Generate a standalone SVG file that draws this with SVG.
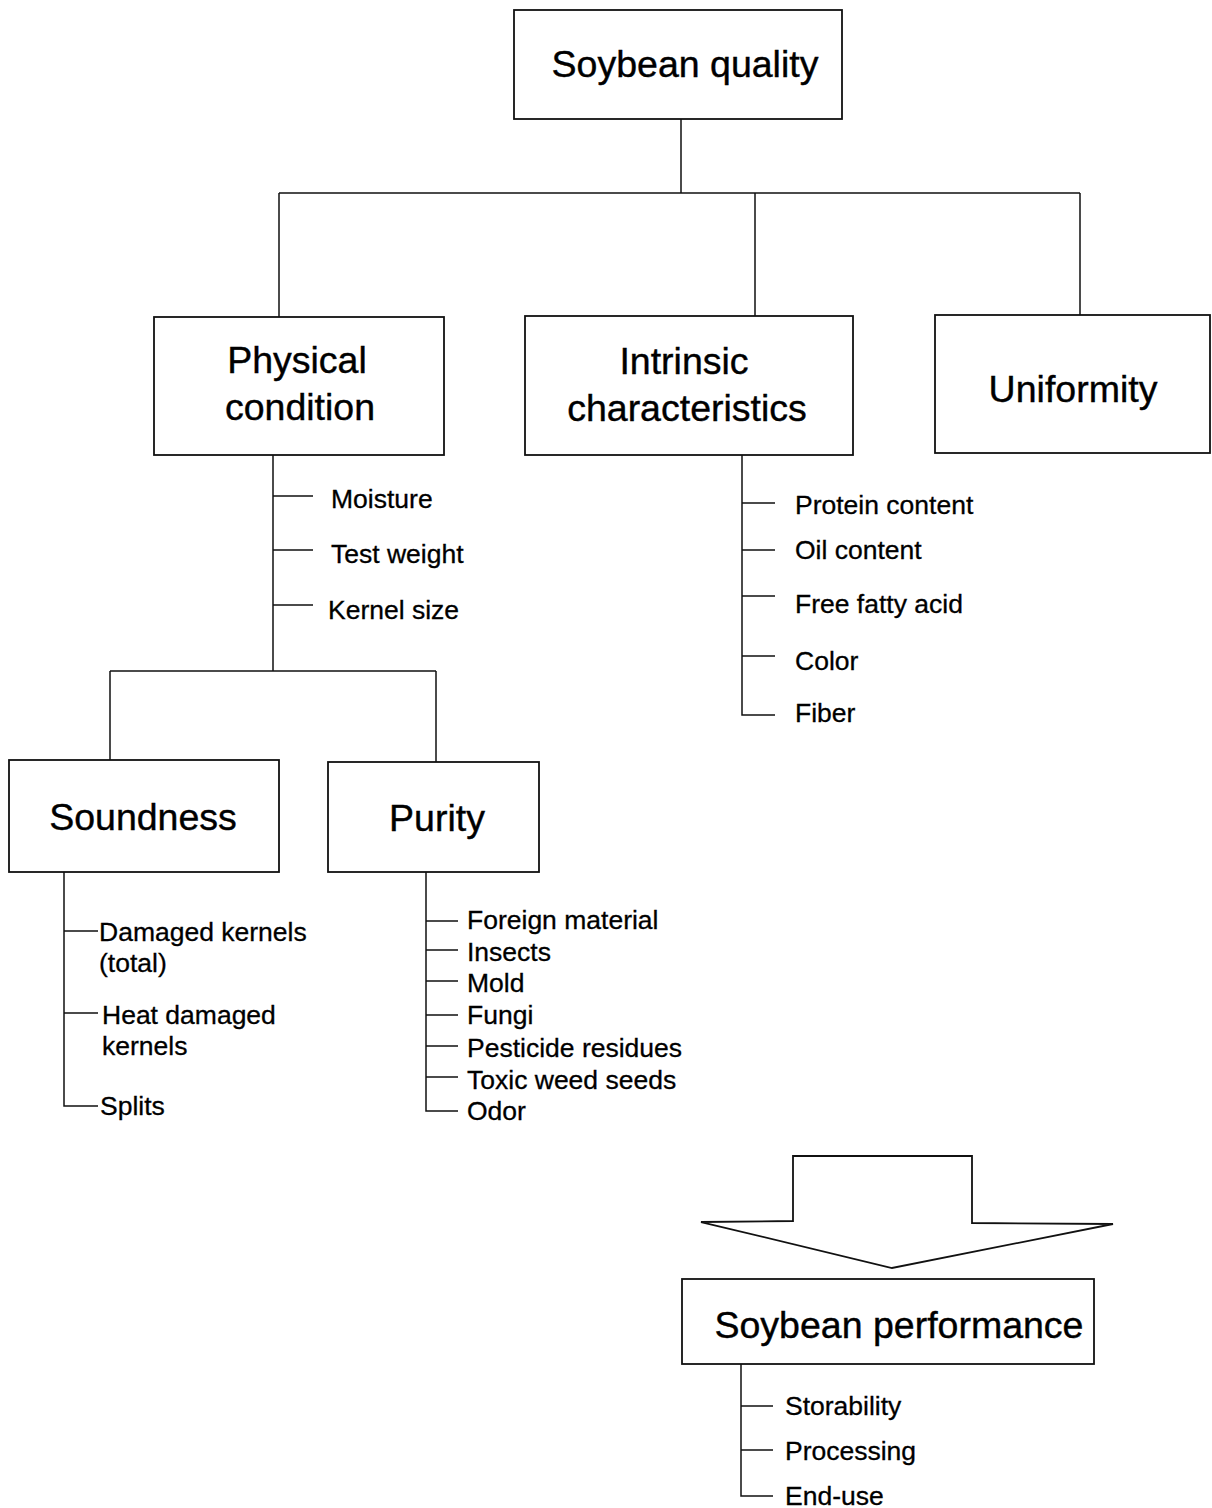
<svg xmlns="http://www.w3.org/2000/svg" width="1212" height="1508" viewBox="0 0 1212 1508">
<style>
.box{fill:#fff;stroke:#111;stroke-width:1.8}
.ln{fill:none;stroke:#111;stroke-width:1.5}
.big{font-family:"Liberation Sans",Arial,sans-serif;font-size:37.5px;fill:#000;stroke:#000;stroke-width:0.4;text-anchor:middle}
.sm{font-family:"Liberation Sans",Arial,sans-serif;font-size:26.5px;fill:#000;stroke:#000;stroke-width:0.3}
</style>
<rect width="1212" height="1508" fill="#fff"/>
<g id="connectors" class="ln">
<path d="M681 119V193M279 193H1080M279 193V317M755 193V316M1080 193V315"/>
<path d="M273 455V671M273 496H313M273 550H313M273 605H313"/>
<path d="M110 671H436M110 671V760M436 671V762"/>
<path d="M64 872V1106H98M64 931H98M64 1013H98"/>
<path d="M426 872V1111H458M426 921H458M426 950H458M426 981H458M426 1015H458M426 1046H458M426 1077H458"/>
<path d="M742 455V715H775M742 503H775M742 550H775M742 596H775M742 656H775"/>
<path d="M741 1364V1496H773M741 1406H773M741 1450H773"/>
</g>
<g id="soybean-quality"><rect class="box" x="514" y="10" width="328" height="109"/><text class="big" x="685" y="77">Soybean quality</text></g>
<g id="physical-condition"><rect class="box" x="154" y="317" width="290" height="138"/><text class="big" x="297" y="373">Physical</text><text class="big" x="300" y="420">condition</text></g>
<g id="intrinsic-characteristics"><rect class="box" x="525" y="316" width="328" height="139"/><text class="big" x="684" y="374">Intrinsic</text><text class="big" x="687" y="421">characteristics</text></g>
<g id="uniformity"><rect class="box" x="935" y="315" width="275" height="138"/><text class="big" x="1073" y="402">Uniformity</text></g>
<g id="physical-items"><text class="sm" x="331" y="508">Moisture</text><text class="sm" x="331" y="563">Test weight</text><text class="sm" x="328" y="619">Kernel size</text></g>
<g id="intrinsic-items"><text class="sm" x="795" y="514">Protein content</text><text class="sm" x="795" y="559">Oil content</text><text class="sm" x="795" y="613">Free fatty acid</text><text class="sm" x="795" y="670">Color</text><text class="sm" x="795" y="722">Fiber</text></g>
<g id="soundness"><rect class="box" x="9" y="760" width="270" height="112"/><text class="big" x="143" y="830">Soundness</text></g>
<g id="purity"><rect class="box" x="328" y="762" width="211" height="110"/><text class="big" x="437" y="831">Purity</text></g>
<g id="soundness-items"><text class="sm" x="99" y="941">Damaged kernels</text><text class="sm" x="99" y="972">(total)</text><text class="sm" x="102" y="1024">Heat damaged</text><text class="sm" x="102" y="1055">kernels</text><text class="sm" x="100" y="1115">Splits</text></g>
<g id="purity-items"><text class="sm" x="467" y="929">Foreign material</text><text class="sm" x="467" y="961">Insects</text><text class="sm" x="467" y="992">Mold</text><text class="sm" x="467" y="1024">Fungi</text><text class="sm" x="467" y="1057">Pesticide residues</text><text class="sm" x="467" y="1089">Toxic weed seeds</text><text class="sm" x="467" y="1120">Odor</text></g>
<g id="big-arrow"><path class="box" d="M793 1156H972V1223L1113 1224L892 1268L701 1222L793 1221Z"/></g>
<g id="soybean-performance"><rect class="box" x="682" y="1279" width="412" height="85"/><text class="big" x="899" y="1338">Soybean performance</text></g>
<g id="performance-items"><text class="sm" x="785" y="1415">Storability</text><text class="sm" x="785" y="1460">Processing</text><text class="sm" x="785" y="1505">End-use</text></g>
</svg>
